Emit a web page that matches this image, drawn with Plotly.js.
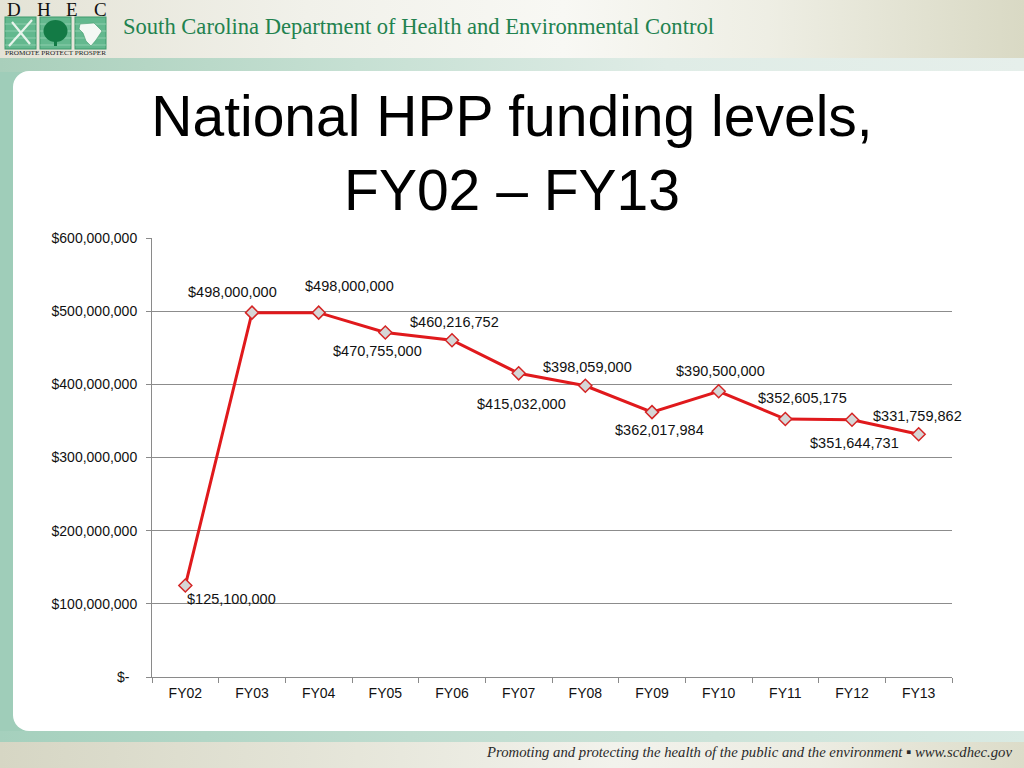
<!DOCTYPE html>
<html>
<head>
<meta charset="utf-8">
<script src="https://cdn.plot.ly/plotly-3.0.1.min.js"></script>
<style>
  html, body { margin: 0; padding: 0; width: 1024px; height: 768px; overflow: hidden; background: #ffffff; }
  #slide { position: absolute; left: 0; top: 0; width: 1024px; height: 768px; }
  .bg { position: absolute; }
  #chart { position: absolute; left: 0; top: 0; width: 1024px; height: 768px; }
</style>
</head>
<body>
<div id="slide">
  <div class="bg" style="left:0;top:0;width:1024px;height:58px;background:linear-gradient(to right,#e4e3d6 0%,#f1f1ea 30%,#f8f8f4 55%,#eeeee4 75%,#d9d9c4 100%);"></div>
  <div class="bg" style="left:0;top:58px;width:1024px;height:14px;background:linear-gradient(to right,#a9cfbb 0%,#c6e0d3 35%,#dfece6 65%,#e6efeb 100%);"></div>
  <div class="bg" style="left:0;top:72px;width:1024px;height:670px;background:#9fcdb9;"></div>
  <div class="bg" style="left:0;top:731px;width:1024px;height:11px;background:linear-gradient(to right,#a5d0bd 0%,#bfdccf 40%,#d9eae3 100%);"></div>
  <div class="bg" style="left:0;top:742px;width:1024px;height:26px;background:linear-gradient(to right,#d6d6c4 0%,#e6e6da 35%,#f2f2ec 60%,#ececE2 80%,#dcdcc9 100%);"></div>
  <div class="bg" style="left:13px;top:71px;width:1011px;height:660px;background:#ffffff;border-radius:16px 0 0 16px;"></div>
  <svg class="bg" style="left:0;top:0;" width="1024" height="768" xmlns="http://www.w3.org/2000/svg">
    <g font-family="Liberation Serif, DejaVu Serif, serif" fill="#111">
      <text x="7" y="16" font-size="19">D</text>
      <text x="37" y="16" font-size="19">H</text>
      <text x="66" y="16" font-size="19">E</text>
      <text x="94" y="16" font-size="19">C</text>
    </g>
    <rect x="5" y="17" width="31" height="32" fill="#63b88e" stroke="#3f9a6c" stroke-width="1"/>
    <rect x="40" y="17" width="31" height="32" fill="#63b88e" stroke="#3f9a6c" stroke-width="1"/>
    <rect x="75" y="17" width="31" height="32" fill="#63b88e" stroke="#3f9a6c" stroke-width="1"/>
    <g stroke="#a8dcc0" stroke-width="0.8" opacity="0.8">
      <line x1="5" y1="24" x2="36" y2="24"/><line x1="5" y1="31" x2="36" y2="31"/><line x1="5" y1="38" x2="36" y2="38"/><line x1="5" y1="45" x2="36" y2="45"/>
      <line x1="40" y1="24" x2="71" y2="24"/><line x1="40" y1="31" x2="71" y2="31"/><line x1="40" y1="38" x2="71" y2="38"/><line x1="40" y1="45" x2="71" y2="45"/>
      <line x1="75" y1="24" x2="106" y2="24"/><line x1="75" y1="31" x2="106" y2="31"/><line x1="75" y1="38" x2="106" y2="38"/><line x1="75" y1="45" x2="106" y2="45"/>
    </g>
    <path d="M9,46 L32,20 M12,22 L30,44 M14,40 L20,34" stroke="#e8f4ec" stroke-width="2.2" fill="none"/>
    <ellipse cx="55.5" cy="31" rx="12" ry="11" fill="#137a45"/>
    <rect x="54" y="38" width="3" height="8" fill="#137a45"/>
    <path d="M80,24 L94,23 L102,31 L96,40 L91,46 L86,41 L83,33 L79,29 Z" fill="#f4f8f4" stroke="#3f9a6c" stroke-width="0.6"/>
    <text x="5" y="55" font-family="Liberation Serif, serif" font-size="5.5" fill="#222" textLength="101" lengthAdjust="spacingAndGlyphs">PROMOTE PROTECT PROSPER</text>
    <text x="123" y="34" font-family="Liberation Serif, DejaVu Serif, serif" font-size="23" fill="#22824f" textLength="591" lengthAdjust="spacingAndGlyphs">South Carolina Department of Health and Environmental Control</text>
    <text x="487" y="757" font-family="Liberation Serif, DejaVu Serif, serif" font-style="italic" font-size="15" fill="#2a2a2a" textLength="525" lengthAdjust="spacingAndGlyphs">Promoting and protecting the health of the public and the environment ▪ www.scdhec.gov</text>
  </svg>
</div>
<div id="chart"></div>
<script>
// ---- data ----
const categories = ["FY02","FY03","FY04","FY05","FY06","FY07","FY08","FY09","FY10","FY11","FY12","FY13"];
const funding = [125100000, 498000000, 498000000, 470755000, 460216752, 415032000, 398059000, 362017984, 390500000, 352605175, 351644731, 331759862];
const yTickVals = [0, 100000000, 200000000, 300000000, 400000000, 500000000, 600000000];
const yTickText = ["$-\u00a0\u00a0", "$100,000,000", "$200,000,000", "$300,000,000", "$400,000,000", "$500,000,000", "$600,000,000"];

// label offsets (pixels, styling only)
const labelDx = [46, -20, 31, -8, 2, 3, 2, 7, 2, 17, 2, -1];
const labelDy = [14, -21, -27, 18, -18, 31, -19, 18, -20, -21, 23, -18];

function fmtMoney(v) {
  return "$" + v.toLocaleString("en-US");
}

const trace = {
  x: categories,
  y: funding,
  type: "scatter",
  mode: "lines+markers",
  line: { color: "#e0191c", width: 3 },
  marker: { symbol: "diamond", size: 10, color: "#d6d6d6", line: { color: "#d42525", width: 1.5 } },
  hoverinfo: "x+y"
};

const annotations = categories.map((c, i) => ({
  x: c, y: funding[i], xref: "x", yref: "y",
  text: fmtMoney(funding[i]),
  showarrow: false,
  xanchor: "center", yanchor: "middle",
  xshift: labelDx[i], yshift: -labelDy[i],
  font: { family: "Liberation Sans, Arial, sans-serif", size: 14.5, color: "#111111" }
}));

const layout = {
  width: 1024, height: 768,
  margin: { l: 152, r: 72, t: 238, b: 91, pad: 0 },
  paper_bgcolor: "rgba(0,0,0,0)",
  plot_bgcolor: "rgba(0,0,0,0)",
  showlegend: false,
  title: {
    text: "National HPP funding levels,<br>FY02 – FY13",
    font: { family: "Liberation Sans, Arial, sans-serif", size: 57, color: "#000000" },
    x: 0.5, xanchor: "center",
    xref: "container", yref: "container",
    y: 1 - 136 / 768, yanchor: "middle"
  },
  font: { family: "Liberation Sans, Arial, sans-serif", color: "#111111" },
  xaxis: {
    type: "category",
    range: [-0.5, 11.5],
    showgrid: false,
    zeroline: false,
    showline: true, linecolor: "#8a8a8a", linewidth: 1,
    ticks: "outside", tickson: "boundaries", ticklen: 5, tickcolor: "#8a8a8a",
    ticklabelstandoff: 3,
    tickfont: { size: 14, color: "#111111" }
  },
  yaxis: {
    range: [0, 600000000],
    tickmode: "array", tickvals: yTickVals, ticktext: yTickText,
    showgrid: true, gridcolor: "#8c8c8c", gridwidth: 1,
    zeroline: false,
    showline: true, linecolor: "#8a8a8a", linewidth: 1,
    ticks: "outside", ticklen: 5, tickcolor: "#8a8a8a",
    ticklabelstandoff: 6,
    tickfont: { size: 14, color: "#111111" }
  },
  annotations: annotations
};

Plotly.newPlot("chart", [trace], layout, { displayModeBar: false, staticPlot: true });
</script>
</body>
</html>
